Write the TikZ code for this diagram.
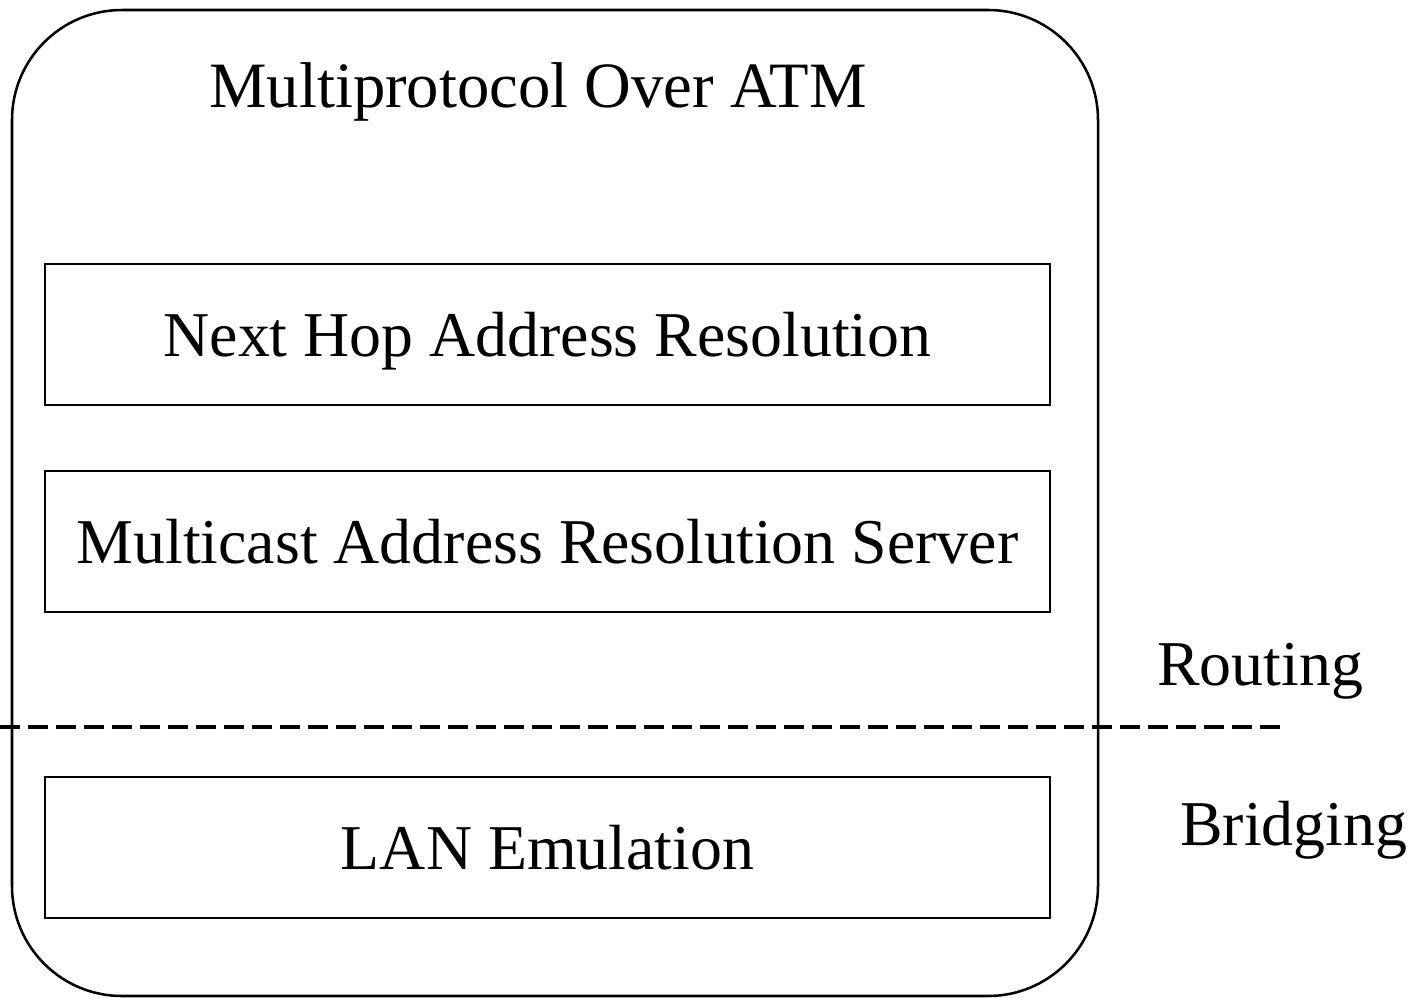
\documentclass[tikz,border=0pt]{standalone}
\usepackage{fontspec}
\setmainfont{Liberation Serif}
\begin{document}
\begin{tikzpicture}[x=0.025cm,y=-0.025cm,
  lbl/.style={font=\fontsize{45.4}{50}\selectfont},
  layerbox/.style={draw, line width=1.4pt, minimum width=1005*0.025cm, minimum height=141*0.025cm, inner sep=0pt, text height=1.1cm, text depth=0pt, font=\fontsize{45.4}{50}\selectfont}]
\useasboundingbox (0,0) rectangle (1412,998);
\draw[line width=1.8pt, rounded corners=110*0.025cm] (12,10) rectangle (1098,996);
\node[font=\fontsize{46}{50}\selectfont, anchor=base] (title) at (538,108) {Multiprotocol Over ATM};
\node[layerbox] (nhar) at (547.5,334.5) {Next Hop Address Resolution};
\node[layerbox] (mars) at (547.5,541.5) {Multicast Address Resolution Server};
\node[layerbox] (lane) at (547.5,847.5) {LAN Emulation};
\coordinate (dl) at (0,727);
\coordinate (dr) at (1283,727);
\draw[line width=2.2pt, dash pattern=on 20*0.025cm off 8*0.025cm] (dl) -- (dr);
\node[lbl, anchor=base west, inner sep=0pt] (routing) at (1157,685) {Routing};
\node[lbl, anchor=base west, inner sep=0pt] (bridging) at (1180,845) {Bridging};
\end{tikzpicture}
\end{document}
